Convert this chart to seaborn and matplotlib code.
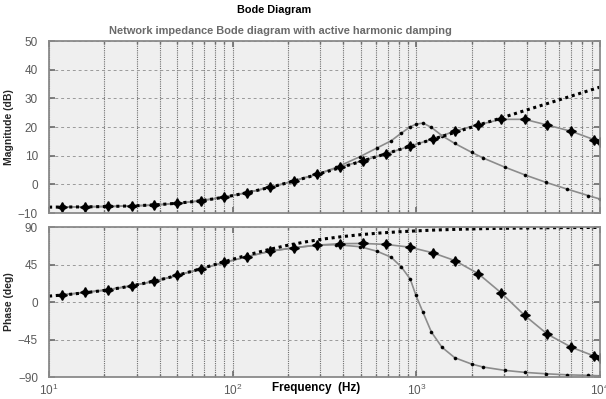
import matplotlib
matplotlib.use("Agg")
import matplotlib.pyplot as plt
import seaborn as sns
import pandas as pd
from matplotlib.ticker import LogLocator, NullFormatter, FixedLocator

# undamped network impedance (dotted line)
freq_ref = [10, 12.6, 15.8, 20, 25.1, 31.6, 39.8, 50.1, 63.1, 79.4, 100, 126, 158, 200, 251,
            316, 398, 501, 631, 794, 1000, 1259, 1585, 1995, 2512, 3162, 3981, 5012, 6310,
            7943, 10000]
mag_ref = [-7.93, -7.89, -7.83, -7.74, -7.59, -7.37, -7.04, -6.56, -5.90, -5.02, -3.91, -2.58,
           -1.10, 0.60, 2.35, 4.2, 6.11, 8.04, 10.0, 11.98, 13.97, 15.96, 17.94, 19.94, 21.94,
           23.93, 25.95, 27.94, 29.94, 31.94, 33.94]
phase_ref = [7.1, 8.95, 11.2, 14.0, 17.4, 21.6, 26.5, 32.1, 38.3, 44.8, 51.3, 57.6, 63.1, 68.2,
             72.3, 75.8, 78.6, 80.9, 82.8, 84.2, 85.4, 86.4, 87.1, 87.7, 88.2, 88.55, 88.85,
             89.1, 89.3, 89.4, 89.5]

# damping case A (large markers, peak near 3.5 kHz)
freq_a = [11.8, 15.7, 21.0, 28.2, 37.5, 50, 67, 90, 119, 160, 215, 289, 383, 512, 685, 919,
          1228, 1619, 2173, 2902, 3892, 5178, 7000, 9300, 10000]
mag_a = [-7.9, -7.8, -7.7, -7.5, -7.2, -6.6, -5.7, -4.4, -2.9, -1.0, 1.2, 3.6, 6.0, 8.3, 10.7,
         13.3, 15.8, 18.6, 20.8, 22.7, 22.7, 20.7, 18.5, 15.6, 14.9]
phase_a = [8.7, 11.5, 14.8, 19.6, 25.0, 32.0, 39.8, 47.5, 54.3, 61.0, 65.1, 68.3, 70.0, 70.3,
           69.1, 65.9, 59.1, 49.8, 34.1, 10.9, -16.1, -38.6, -54.3, -64.8, -66.8]

# damping case B (small dots, peak near 1 kHz)
freq_b = [11.8, 15.7, 21.0, 28.2, 37.5, 50, 67, 90, 119, 160, 215, 289, 366, 494, 610, 729,
          828, 927, 995, 1088, 1208, 1380, 1619, 2000, 2313, 3039, 3909, 5090, 6603, 8630, 10000]
mag_b = [-7.9, -7.8, -7.7, -7.5, -7.2, -6.6, -5.7, -4.4, -2.9, -1.0, 1.2, 3.6, 5.9, 9.7, 12.7,
         15.2, 17.9, 20.1, 21.0, 21.4, 19.9, 17.0, 14.3, 11.2, 9.2, 6.0, 3.3, 0.7, -1.6, -3.9,
         -5.1]
phase_b = [8.7, 11.5, 14.8, 19.6, 25.0, 32.0, 39.8, 47.5, 54.3, 61.0, 65.1, 68.3, 68.8, 66.4,
           61.0, 53.8, 42.2, 27.5, 8.0, -12.5, -36.0, -54.3, -66.8, -74.4, -78.0, -82.0, -84.4,
           -86.1, -87.3, -88.0, -88.5]

mag_ticks = [-10, 0, 10, 20, 30, 40, 50]
phase_ticks = [-90, -45, 0, 45, 90]

sns.set_theme(style="ticks")
plt.rcParams['font.family'] = ['Liberation Sans', 'DejaVu Sans']

ref = pd.DataFrame({'f': freq_ref, 'mag': mag_ref, 'phase': phase_ref})
case_a = pd.DataFrame({'f': freq_a, 'mag': mag_a, 'phase': phase_a})
case_b = pd.DataFrame({'f': freq_b, 'mag': mag_b, 'phase': phase_b})

fig = plt.figure(figsize=(6.06, 3.99), dpi=100)
ax_mag = fig.add_axes([0.081, 0.466, 0.909, 0.431])
ax_ph = fig.add_axes([0.081, 0.055, 0.909, 0.376])

line_grey = '#8c8c8c'
star = (4, 1, 0)

for ax, col, ticks in [(ax_mag, 'mag', mag_ticks), (ax_ph, 'phase', phase_ticks)]:
    ax.set_facecolor('#efefef')
    sns.lineplot(data=case_b, x='f', y=col, ax=ax, color=line_grey, lw=1.2,
                 estimator=None, sort=False, marker='o', markersize=2.2,
                 markerfacecolor='black', markeredgecolor='black', markeredgewidth=0.4)
    sns.lineplot(data=case_a, x='f', y=col, ax=ax, color=line_grey, lw=1.2,
                 estimator=None, sort=False, marker=star, markersize=7,
                 markerfacecolor='black', markeredgecolor='black', markeredgewidth=1.0)
    sns.lineplot(data=ref, x='f', y=col, ax=ax, color='black', lw=2.2,
                 linestyle=(0, (1, 1.2)), estimator=None, sort=False)
    ax.set_xscale('log')
    ax.set_xlim(10, 10000)
    ax.set_ylim(ticks[0], ticks[-1])
    ax.yaxis.set_major_locator(FixedLocator(ticks))
    ax.xaxis.set_major_locator(LogLocator(base=10))
    ax.xaxis.set_minor_locator(LogLocator(base=10, subs=range(2, 10)))
    ax.xaxis.set_minor_formatter(NullFormatter())
    ax.grid(which='major', axis='y', linestyle=(0, (3, 3)), color='#9a9a9a', lw=0.7)
    ax.grid(which='both', axis='x', linestyle=(0, (1, 1)), color='#6e6e6e', lw=0.8)
    ax.tick_params(which='both', direction='in', top=True, right=True, color='#707070',
                   labelcolor='#5a5a5a', labelsize=8.5)
    ax.tick_params(which='major', length=4)
    ax.tick_params(which='minor', length=2)
    ax.tick_params(axis='y', pad=8)
    for s in ax.spines.values():
        s.set_color('#8a8a8a')
        s.set_linewidth(1.3)
    ax.set_xlabel('')
    ax.set_axisbelow(True)
    ax.yaxis.set_label_coords(-0.063, 0.5)

ax_mag.tick_params(axis='x', labelbottom=False)
ax_mag.set_ylabel('Magnitude (dB)', fontsize=7.5, fontweight='bold')
ax_ph.set_ylabel('Phase (deg)', fontsize=7.5, fontweight='bold')
ax_ph.tick_params(axis='x', pad=4)

fig.text(0.452, 0.975, 'Bode Diagram', ha='center', va='center', fontsize=7.8,
         fontweight='bold', color='black')
fig.text(0.462, 0.922, 'Network impedance Bode diagram with active harmonic damping',
         ha='center', va='center', fontsize=7.9, fontweight='bold', color='#6a6a6a')
fig.text(0.522, 0.027, 'Frequency  (Hz)', ha='center', va='center', fontsize=8.5,
         fontweight='bold', color='black')

fig.savefig('out.png', dpi=100)
